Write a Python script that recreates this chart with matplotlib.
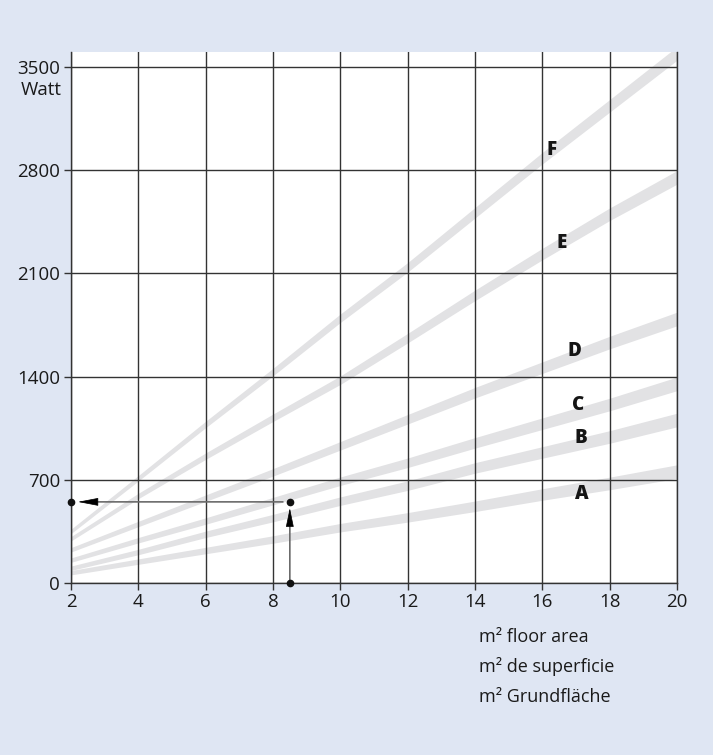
import numpy as np
import matplotlib
matplotlib.use("Agg")
import matplotlib.pyplot as plt

plt.rcParams['font.family'] = ['Open Sans', 'DejaVu Sans']

# Datos (centro de cada banda, en Watt)
area = [2, 4, 6, 8, 10, 12, 14, 16, 18, 20]
band_A = [70, 145, 220, 295, 375, 445, 520, 600, 675, 755]
band_B = [100, 210, 330, 440, 555, 660, 780, 885, 990, 1105]
band_C = [155, 290, 420, 555, 690, 815, 950, 1080, 1210, 1350]
band_D = [225, 400, 575, 750, 930, 1110, 1290, 1460, 1630, 1790]
band_E = [300, 590, 860, 1120, 1375, 1660, 1950, 2230, 2500, 2750]
band_F = [350, 710, 1075, 1430, 1795, 2140, 2510, 2880, 3235, 3590]
band_names = ['A', 'B', 'C', 'D', 'E', 'F']

x_ticks = [2, 4, 6, 8, 10, 12, 14, 16, 18, 20]
y_ticks = [0, 700, 1400, 2100, 2800, 3500]

example_area = 8.5
example_watt = 550

axis_labels = ["m\u00b2 floor area", "m\u00b2 de superficie", "m\u00b2 Grundfläche"]

bg = '#dfe6f3'
band_color = '#e2e2e4'
line_color = '#333333'

fig = plt.figure(figsize=(7.13, 7.55), dpi=100, facecolor=bg)
ax = fig.add_axes([71 / 713, 172 / 755, 606 / 713, 531 / 755])
ax.set_facecolor('white')
ax.set_xlim(2, 20)
ax.set_ylim(0, 3600)

# Bandas: el grosor crece con la superficie (en px, convertido a Watt)
px_per_watt = 531 / 3600
x = np.array(area, dtype=float)
half = (2.2 + 4.6 * (x - 2) / 18) / px_per_watt
bands = [band_A, band_B, band_C, band_D, band_E, band_F]
for vals in bands:
    v = np.array(vals, dtype=float)
    ax.fill_between(x, v - half, v + half, color=band_color, lw=0, zorder=1)

# Letras de cada banda
label_pos = [(17.18, 603), (17.15, 983), (17.06, 1207), (16.94, 1573), (16.58, 2305), (16.29, 2936)]
for name, (lx, ly) in zip(band_names, label_pos):
    ax.text(lx, ly, name, fontsize=13.5, fontweight=800, color='#151515',
            ha='center', va='center', zorder=4)

# Cuadrícula, ejes y marcas
ax.set_xticks(x_ticks)
ax.set_yticks(y_ticks)
ax.set_xticklabels([str(t) for t in x_ticks])
ax.set_yticklabels([str(t) for t in y_ticks])
ax.grid(True, color=line_color, lw=1.0, zorder=2)
ax.set_axisbelow(False)
ax.tick_params(axis='both', length=5, width=1.0, color=line_color,
               labelsize=13.5, labelcolor='#1a1a1a')
ax.tick_params(axis='x', pad=2)
ax.tick_params(axis='y', pad=3)
for side in ['left', 'bottom', 'right']:
    ax.spines[side].set_color(line_color)
    ax.spines[side].set_linewidth(1.0)
ax.spines['top'].set_visible(False)

ax.annotate("Watt", xy=(0, 3500), xycoords=('axes fraction', 'data'),
            xytext=(-7, -17), textcoords='offset points',
            ha='right', va='center', fontsize=13.5, color='#1a1a1a')

# Ejemplo de lectura con flechas
arrow_grey = '#6b6b6b'
ax.annotate('', xy=(2, example_watt), xytext=(example_area, example_watt),
            arrowprops=dict(arrowstyle='-', color=arrow_grey, lw=1.2,
                            shrinkA=5, shrinkB=15), zorder=3)
ax.annotate('', xy=(2, example_watt), xytext=(18, 0), textcoords='offset points',
            arrowprops=dict(arrowstyle='-|>,head_length=13,head_width=2.5',
                            mutation_scale=1, color='black', lw=0.5,
                            shrinkA=0, shrinkB=5), zorder=3)
ax.annotate('', xy=(example_area, example_watt), xytext=(example_area, 0),
            arrowprops=dict(arrowstyle='-', color=arrow_grey, lw=1.2,
                            shrinkA=0, shrinkB=15), zorder=3)
ax.annotate('', xy=(example_area, example_watt), xytext=(0, -17),
            textcoords='offset points',
            arrowprops=dict(arrowstyle='-|>,head_length=12,head_width=2.5',
                            mutation_scale=1, color='black', lw=0.5,
                            shrinkA=0, shrinkB=4.5), zorder=3)
ax.plot([2, example_area, example_area], [example_watt, example_watt, 0], 'o',
        color='#111111', ms=4.5, clip_on=False, zorder=5)

# Etiquetas del eje x (tres idiomas)
for i, txt in enumerate(axis_labels):
    fig.text(479 / 713, 1 - (637 + 30 * i) / 755, txt, ha='left', va='center',
             fontsize=13, color='#1a1a1a')

fig.savefig("out.png", dpi=100, facecolor=bg)
